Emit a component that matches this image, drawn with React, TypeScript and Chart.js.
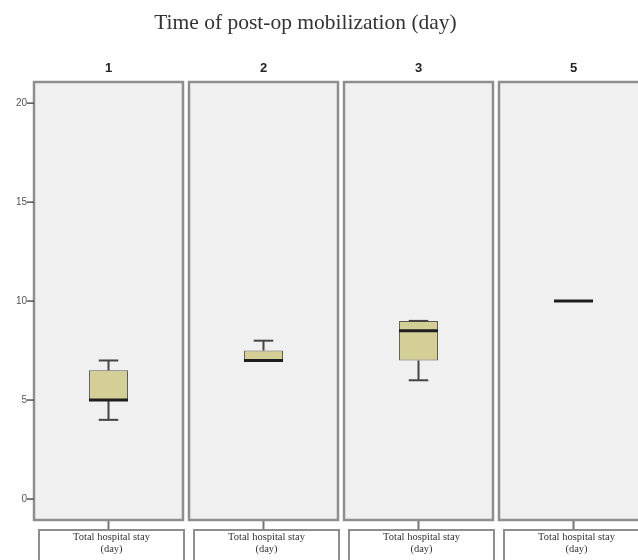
import React, { useEffect, useRef } from 'react';
import { Chart, registerables } from 'chart.js';

Chart.register(...registerables);

const titleText = 'Time of post-op mobilization (day)';
const categories = ['1', '2', '3', '5'];
const whiskerLow = [4, 7, 6, 10];
const q1 = [5, 7, 7, 10];
const median = [5, 7, 8.5, 10];
const q3 = [6.5, 7.5, 9, 10];
const whiskerHigh = [7, 8, 9, 10];
const yTicks = [0, 5, 10, 15, 20];
const yMin = -1.06;
const yMax = 21.07;
const bottomLabel = ['Total hospital stay', '(day)'];

const boxPlugin = {
  id: 'boxPanels',
  beforeDatasetsDraw(chart: any) {
    const { ctx, chartArea, scales } = chart;
    const x = scales.x;
    const y = scales.y;
    const step = chartArea.width / categories.length;
    ctx.save();
    categories.forEach((_c, i) => {
      const cx = x.getPixelForValue(i);
      const left = cx - step / 2 + 3;
      const right = cx + step / 2 - 3;
      const top = chartArea.top;
      const bottom = chartArea.bottom;
      ctx.fillStyle = '#f0f0f0';
      ctx.fillRect(left, top, right - left, bottom - top);
      ctx.strokeStyle = '#8e8e8e';
      ctx.lineWidth = 2.5;
      ctx.strokeRect(left, top, right - left, bottom - top);
      // connector
      ctx.beginPath();
      ctx.moveTo(cx, bottom + 1);
      ctx.lineTo(cx, bottom + 10);
      ctx.strokeStyle = '#777';
      ctx.lineWidth = 2;
      ctx.stroke();
      // label box
      const bl = cx - step / 2 + 8;
      const br = cx + step / 2 - 2;
      const bt = bottom + 10;
      ctx.fillStyle = '#ffffff';
      ctx.fillRect(bl, bt, br - bl, 60);
      ctx.strokeStyle = '#8e8e8e';
      ctx.lineWidth = 2;
      ctx.strokeRect(bl, bt, br - bl, 60);
      ctx.fillStyle = '#333';
      ctx.font = '10.5px "Liberation Serif", serif';
      ctx.textAlign = 'center';
      ctx.textBaseline = 'middle';
      bottomLabel.forEach((t, k) => ctx.fillText(t, cx + 3, bt + 7.5 + k * 12));
    });
    // y tick marks
    ctx.strokeStyle = '#555';
    ctx.lineWidth = 1.5;
    yTicks.forEach((v) => {
      const py = y.getPixelForValue(v);
      ctx.beginPath();
      ctx.moveTo(chartArea.left - 4, py);
      ctx.lineTo(chartArea.left + 3, py);
      ctx.stroke();
    });
    ctx.restore();
  },
  afterDatasetsDraw(chart: any) {
    const { ctx, scales } = chart;
    const x = scales.x;
    const y = scales.y;
    const meta = chart.getDatasetMeta(0);
    ctx.save();
    categories.forEach((_c, i) => {
      const cx = x.getPixelForValue(i);
      const bw = meta.data[i].width;
      const cap = bw / 4;
      ctx.strokeStyle = '#444';
      ctx.lineWidth = 2;
      // upper whisker
      if (whiskerHigh[i] > q3[i]) {
        ctx.beginPath();
        ctx.moveTo(cx, y.getPixelForValue(q3[i]));
        ctx.lineTo(cx, y.getPixelForValue(whiskerHigh[i]));
        ctx.stroke();
      }
      if (whiskerLow[i] < q1[i]) {
        ctx.beginPath();
        ctx.moveTo(cx, y.getPixelForValue(q1[i]));
        ctx.lineTo(cx, y.getPixelForValue(whiskerLow[i]));
        ctx.stroke();
      }
      if (whiskerHigh[i] !== whiskerLow[i]) {
        [whiskerHigh[i], whiskerLow[i]].forEach((v) => {
          const py = y.getPixelForValue(v);
          ctx.beginPath();
          ctx.moveTo(cx - cap, py);
          ctx.lineTo(cx + cap, py);
          ctx.stroke();
        });
      }
      // median
      const pm = y.getPixelForValue(median[i]);
      ctx.strokeStyle = '#1e1e1e';
      ctx.lineWidth = 3;
      ctx.beginPath();
      ctx.moveTo(cx - bw / 2, pm);
      ctx.lineTo(cx + bw / 2, pm);
      ctx.stroke();
    });
    ctx.restore();
  },
  afterDraw(chart: any) {
    const { ctx } = chart;
    ctx.save();
    ctx.fillStyle = '#333';
    ctx.font = '21.5px "Liberation Serif", serif';
    ctx.textAlign = 'center';
    ctx.textBaseline = 'middle';
    ctx.fillText(titleText, 305.5, 23);
    ctx.restore();
  },
};

export default function App() {
  const ref = useRef<HTMLCanvasElement | null>(null);
  useEffect(() => {
    if (!ref.current) return;
    const chart = new Chart(ref.current, {
      type: 'bar',
      data: {
        labels: categories,
        datasets: [
          {
            data: categories.map((_c, i) => [q1[i], q3[i]]) as any,
            backgroundColor: 'rgb(212,207,150)',
            borderColor: '#5b5b52',
            borderWidth: 1,
            borderSkipped: false,
            barPercentage: 0.252,
            categoryPercentage: 1,
          },
        ],
      },
      options: {
        animation: false,
        responsive: true,
        maintainAspectRatio: false,
        layout: { padding: { top: 44, bottom: 40, left: 0, right: 0 } },
        plugins: {
          legend: { display: false },
          tooltip: { enabled: false },
          title: { display: false },
        },
        scales: {
          x: {
            position: 'top',
            offset: true,
            grid: { display: false, drawTicks: false },
            border: { display: false },
            ticks: {
              color: '#222',
              padding: 6,
              font: { family: 'Arial, "Liberation Sans", sans-serif', size: 13, weight: 'bold' },
            },
            afterFit: (scale: any) => {
              scale.height = 38;
            },
          },
          y: {
            min: yMin,
            max: yMax,
            grid: { display: false, drawTicks: false },
            border: { display: false },
            afterBuildTicks: (scale: any) => {
              scale.ticks = yTicks.map((v) => ({ value: v }));
            },
            ticks: {
              color: '#555',
              padding: 4,
              font: { family: 'Arial, "Liberation Sans", sans-serif', size: 10 },
            },
            afterFit: (scale: any) => {
              scale.width = 31;
            },
          },
        },
      },
      plugins: [boxPlugin],
    });
    return () => chart.destroy();
  }, []);
  return (
    <div style={{ position: 'fixed', left: 0, top: 0, width: 638, height: 560, overflow: 'hidden', background: '#fff' }}>
      <div style={{ position: 'relative', width: 651, height: 560 }}>
        <canvas ref={ref} />
      </div>
    </div>
  );
}
